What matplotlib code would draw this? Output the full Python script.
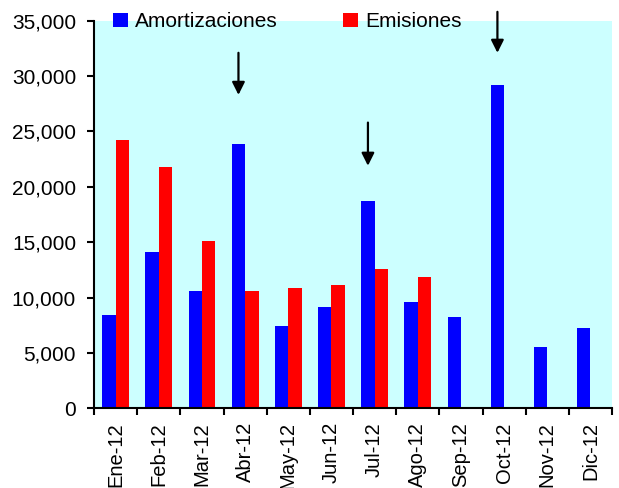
import numpy as np
import matplotlib
matplotlib.use("Agg")
import matplotlib.pyplot as plt
from matplotlib.ticker import FuncFormatter, FixedLocator

plt.rcParams["font.family"] = ["Liberation Sans", "DejaVu Sans"]

months = ["Ene-12", "Feb-12", "Mar-12", "Abr-12", "May-12", "Jun-12",
          "Jul-12", "Ago-12", "Sep-12", "Oct-12", "Nov-12", "Dic-12"]
amortizaciones = [8450, 14150, 10550, 23900, 7450, 9150,
                  18700, 9600, 8250, 29200, 5550, 7250]
emisiones = [24250, 21800, 15150, 10550, 10900, 11100,
             12600, 11900, 0, 0, 0, 0]

# arrows: (month, tail, tip)
arrows = [("Abr-12", 32100, 28300), ("Jul-12", 25800, 21900), ("Oct-12", 35800, 32100)]

fig = plt.figure(figsize=(6.19, 4.88), dpi=100)
ax = fig.add_axes([0.152, 0.1633, 0.8367, 0.7943])
ax.set_facecolor("#CCFFFF")

x = np.arange(len(months))
w = 0.31
ax.bar(x - w / 2, amortizaciones, w, color="#0000FF", label="Amortizaciones")
ax.bar(x + w / 2, emisiones, w, color="#FF0000", label="Emisiones")

for m, y0, y1 in arrows:
    i = months.index(m) - w / 2
    ax.annotate("", xy=(i, y1), xytext=(i, y0), annotation_clip=False,
                arrowprops=dict(arrowstyle="-|>", color="black", lw=1.6,
                                mutation_scale=19, shrinkA=0, shrinkB=0))

ax.set_xlim(-0.5, len(months) - 0.5)
ax.set_ylim(0, 35000)
ax.set_yticks(np.arange(0, 35001, 5000))
ax.yaxis.set_major_formatter(FuncFormatter(lambda v, p: f"{v:,.0f}"))

ax.xaxis.set_major_locator(FixedLocator(np.arange(-0.5, len(months), 1)))
ax.xaxis.set_major_formatter(FuncFormatter(lambda v, p: ""))
ax.set_xticks(x, minor=True)
ax.set_xticklabels(months, minor=True, rotation=90, va="top", ha="center")

ax.tick_params(axis="y", direction="out", length=5, width=1.5, pad=8, labelsize=15)
ax.tick_params(axis="x", which="major", direction="out", length=5, width=1.5)
ax.tick_params(axis="x", which="minor", length=0, pad=10, labelsize=14.5)

for s in ["top", "right"]:
    ax.spines[s].set_visible(False)
for s in ["left", "bottom"]:
    ax.spines[s].set_linewidth(1.5)

fig.legend(loc="center left", bbox_to_anchor=(0.166, 0.955), ncol=2,
           frameon=False, fontsize=15, borderpad=0, handlelength=0.7,
           handleheight=0.7, handletextpad=0.35, columnspacing=3.15)

fig.savefig("out.png", dpi=100)
